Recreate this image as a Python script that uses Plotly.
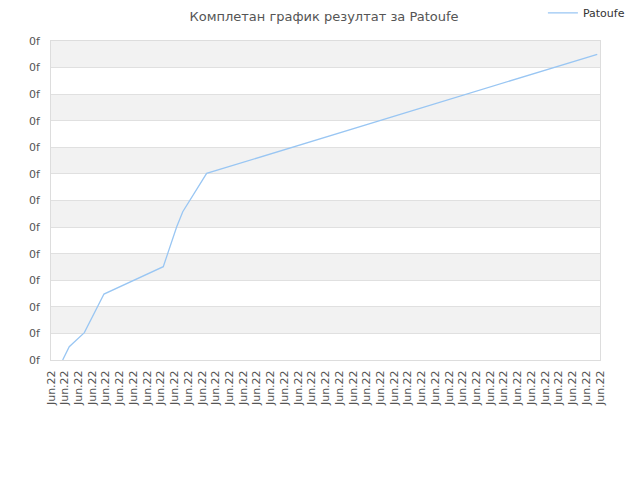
import plotly.graph_objects as go

# data
x_pos = [0.85, 1.33, 2.43, 3.86, 8.18, 9.16, 9.6, 11.34, 39.8]
scores = [0, 0.5, 1.03, 2.48, 3.51, 5.01, 5.58, 7.02, 11.5]
x_labels = ["Jun.22"] * 41
y_labels = ["0f"] * 13

fig = go.Figure()

fig.add_trace(go.Scatter(
    x=x_pos,
    y=scores,
    mode='lines',
    name='Patoufe',
    line=dict(color='#99c6f3', width=1.3),
))

# alternating grey bands
for k in range(1, 12, 2):
    fig.add_shape(type='rect', xref='paper', yref='y', x0=0, x1=1, y0=k, y1=k + 1,
                  fillcolor='#f2f2f2', line_width=0, layer='below')

# page body has an 8px margin, so the figure is a bit smaller than the window
fig.update_layout(
    width=632, height=472,
    margin=dict(l=43, r=40, t=33, b=120, autoexpand=False),
    paper_bgcolor='white',
    plot_bgcolor='white',
    font=dict(family='DejaVu Sans', size=11, color='#555555'),
    title=dict(text='Комплетан график резултат за Patoufe', x=0.5, xanchor='center',
               y=0.983, yanchor='middle', font=dict(size=13, color='#555555')),
    showlegend=True,
    legend=dict(x=0.896, xanchor='left', y=1.088, yanchor='middle',
                bgcolor='rgba(0,0,0,0)', font=dict(size=11, color='#333333')),
    xaxis=dict(
        range=[0, 40],
        automargin=False,
        tickmode='array',
        tickvals=list(range(len(x_labels))),
        ticktext=x_labels,
        tickangle=-90,
        showgrid=False,
        zeroline=False,
        showline=True, linecolor='#dddddd', mirror=True,
        ticks='outside', ticklen=5, tickcolor='rgba(0,0,0,0)',
        tickfont=dict(size=11, color='#555555'),
    ),
    yaxis=dict(
        range=[0, 12],
        automargin=False,
        tickmode='array',
        tickvals=list(range(len(y_labels))),
        ticktext=y_labels,
        showgrid=True, gridcolor='#e0e0e0',
        zeroline=False,
        showline=True, linecolor='#dddddd', mirror=True,
        ticks='outside', ticklen=8, tickcolor='rgba(0,0,0,0)',
        tickfont=dict(size=11, color='#555555'),
    ),
)

fig.write_html("out.html")
